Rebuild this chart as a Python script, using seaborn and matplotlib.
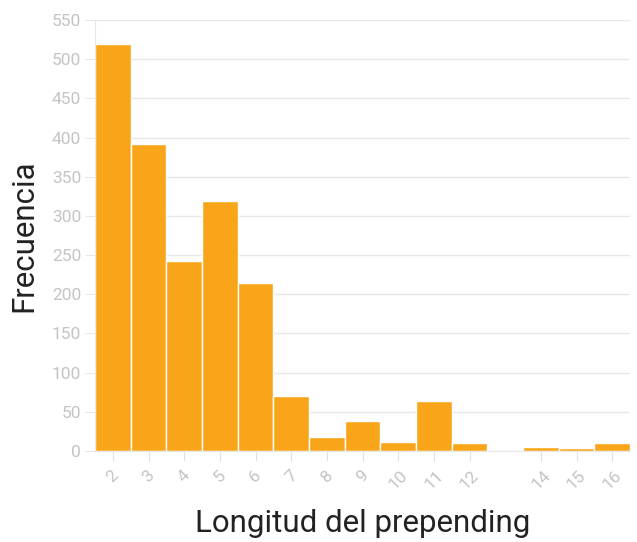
import numpy as np
import pandas as pd
import matplotlib
matplotlib.use('Agg')
import matplotlib.pyplot as plt
import seaborn as sns

# Prepending length and how often each occurs
lengths = [2, 3, 4, 5, 6, 7, 8, 9, 10, 11, 12, 13, 14, 15, 16]
counts = [519, 392, 243, 319, 214, 70, 18, 38, 11, 64, 10, 0, 5, 4, 10]
tick_labels = [2, 3, 4, 5, 6, 7, 8, 9, 10, 11, 12, 14, 15, 16]

df = pd.DataFrame({'Longitud': lengths, 'Frecuencia': counts})

sns.set_style('white')
plt.rcParams['font.family'] = ['Roboto', 'DejaVu Sans']

fig = plt.figure(figsize=(6.37, 5.42), dpi=100)
ax = fig.add_axes([95 / 637, 1 - 451 / 542, 535 / 637, 431 / 542])

sns.histplot(data=df, x='Longitud', weights='Frecuencia', discrete=True,
             color='#F9A51A', alpha=1, edgecolor='white', linewidth=1, ax=ax)

ax.set_xlim(1.5, 16.5)
ax.set_ylim(0, 550)
ax.set_yticks(range(0, 551, 50))
ax.set_xticks(tick_labels)
ax.set_xticklabels([str(t) for t in tick_labels], rotation=45, ha='center')

ax.yaxis.grid(True, color='#e8e8e8', linewidth=1)
ax.set_axisbelow(True)
for s in ['top', 'right']:
    ax.spines[s].set_visible(False)
ax.spines['left'].set_color('#e8e8e8')
ax.spines['bottom'].set_color('#e8e8e8')

ax.tick_params(axis='y', length=7, color='#e8e8e8', labelcolor='#c4c4c4',
               labelsize=12.5, pad=3, left=True)
ax.tick_params(axis='x', length=7, color='#e0e0e0', labelcolor='#c4c4c4',
               labelsize=12.5, pad=5, bottom=True)

ax.set_xlabel('Longitud del prepending', fontsize=22.5, color='#222222', labelpad=12)
ax.set_ylabel('Frecuencia', fontsize=22.5, color='#222222', labelpad=10)

fig.savefig('out.png', dpi=100)
